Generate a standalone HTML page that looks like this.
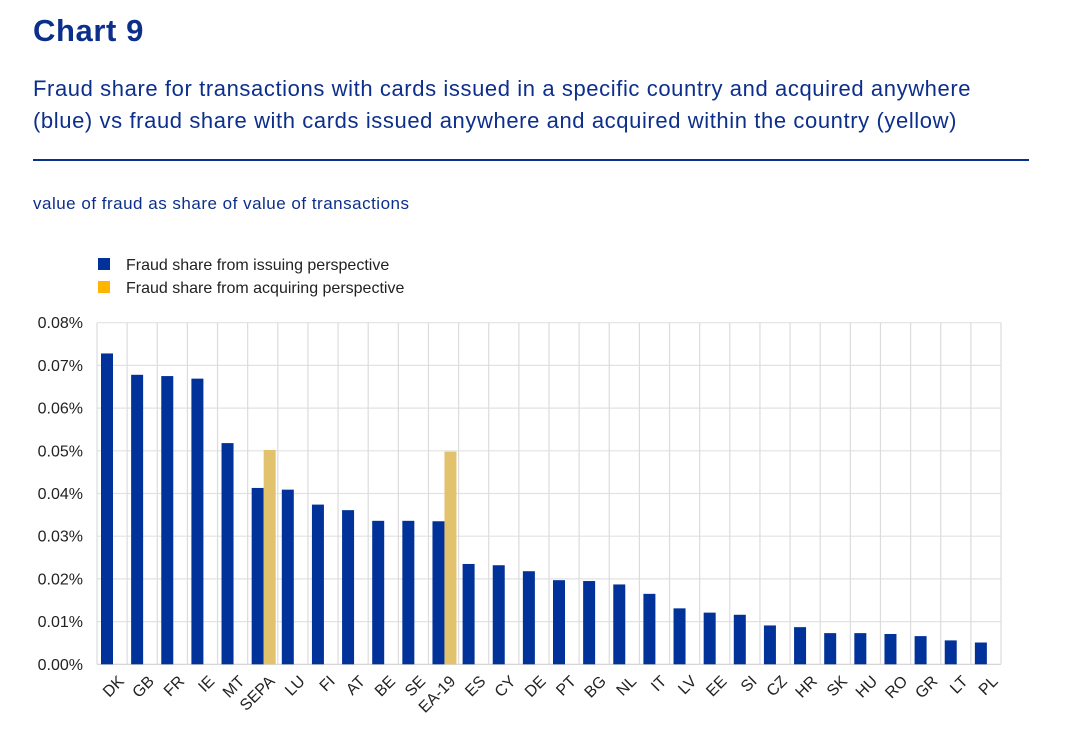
<!DOCTYPE html>
<html><head><meta charset="utf-8">
<style>
body{margin:0;background:#fff;width:1074px;height:733px;overflow:hidden;font-family:"Liberation Sans",sans-serif;}
.h1{position:absolute;left:33px;top:13px;font-size:31px;font-weight:bold;color:#0d2f8c;letter-spacing:0.6px;}
.sub{position:absolute;left:33px;top:73px;font-size:22px;line-height:32px;color:#0d2f8c;width:1040px;letter-spacing:0.6px;white-space:nowrap;}
.rule{position:absolute;left:33px;top:159px;width:996px;height:2px;background:#0d2f8c;}
.unit{position:absolute;left:33px;top:194px;font-size:17px;color:#0d2f8c;letter-spacing:0.5px;}
svg{position:absolute;left:0;top:0;}
</style></head><body>
<div class="h1">Chart 9</div>
<div class="sub">Fraud share for transactions with cards issued in a specific country and acquired anywhere<br>(blue) vs fraud share with cards issued anywhere and acquired within the country (yellow)</div>
<div class="rule"></div>
<div class="unit">value of fraud as share of value of transactions</div>
<svg id="chart" width="1074" height="733"></svg>
<script>
const categories=["DK","GB","FR","IE","MT","SEPA","LU","FI","AT","BE","SE","EA-19","ES","CY","DE","PT","BG","NL","IT","LV","EE","SI","CZ","HR","SK","HU","RO","GR","LT","PL"];
const issuing=[0.0728,0.0678,0.0675,0.0669,0.0518,0.0413,0.0409,0.0374,0.0361,0.0336,0.0336,0.0335,0.0235,0.0232,0.0218,0.0197,0.0195,0.0187,0.0165,0.0131,0.0121,0.0116,0.0091,0.0087,0.0073,0.0073,0.0071,0.0066,0.0056,0.0051];
const acquiring=[null,null,null,null,null,0.0502,null,null,null,null,null,0.0498,null,null,null,null,null,null,null,null,null,null,null,null,null,null,null,null,null,null];
const yTicks=[0,0.01,0.02,0.03,0.04,0.05,0.06,0.07,0.08];
const yTickLabels=["0.00%","0.01%","0.02%","0.03%","0.04%","0.05%","0.06%","0.07%","0.08%"];
const legendLabels=["Fraud share from issuing perspective","Fraud share from acquiring perspective"];

const NS="http://www.w3.org/2000/svg";
const svg=document.getElementById('chart');
const L=97,R=1001,T=322.7,B=664.3,yMax=0.08;
const bw=(R-L)/categories.length;
const x=i=>L+i*bw;
const y=v=>B-(v/yMax)*(B-T);
function mk(tag,attrs){const e=document.createElementNS(NS,tag);for(const k in attrs)e.setAttribute(k,attrs[k]);svg.appendChild(e);return e;}
yTicks.forEach((t,i)=>{
  const g=mk('line',{x1:L,x2:R,y1:y(t),y2:y(t),stroke:i==0?'#d0d0d0':'#e2e2e2','stroke-width':1.2});
  
  
  const tx=mk('text',{x:83,y:y(t)+5.5,'text-anchor':'end','font-size':16,fill:'#222','font-family':'Liberation Sans, sans-serif'});
  tx.textContent=yTickLabels[i];
  
  
});
for(let i=0;i<=categories.length;i++){
  const g=mk('line',{x1:x(i),x2:x(i),y1:T,y2:B,stroke:'#dcdcdc','stroke-width':1.2});
  
  
}
categories.forEach((c,i)=>{
  const r=mk('rect',{x:x(i)+4,y:y(issuing[i]),width:12,height:B-y(issuing[i]),fill:'#003299'});
  
  
  if(acquiring[i]!=null){
    const a=mk('rect',{x:x(i)+16,y:y(acquiring[i]),width:12,height:B-y(acquiring[i]),fill:'#e3c26e'});
    
    
  }
  const cx=x(i)+bw/2+5, cy=B+10;
  const t=mk('text',{x:cx,y:cy,'text-anchor':'end','font-size':16,fill:'#222','font-family':'Liberation Sans, sans-serif',transform:`rotate(-45 ${cx} ${cy})`,dy:'0.7em'});
  t.textContent=c;
  
  
});
const cols=['#003299','#ffb400'];
legendLabels.forEach((lb,i)=>{
  const r=mk('rect',{x:98,y:258+i*23,width:12,height:12,fill:cols[i]});
  
  
  const t=mk('text',{x:126,y:270+i*23,'font-size':16,fill:'#222','font-family':'Liberation Sans, sans-serif'});
  t.textContent=lb;
  
  
});
</script>
</body></html>
